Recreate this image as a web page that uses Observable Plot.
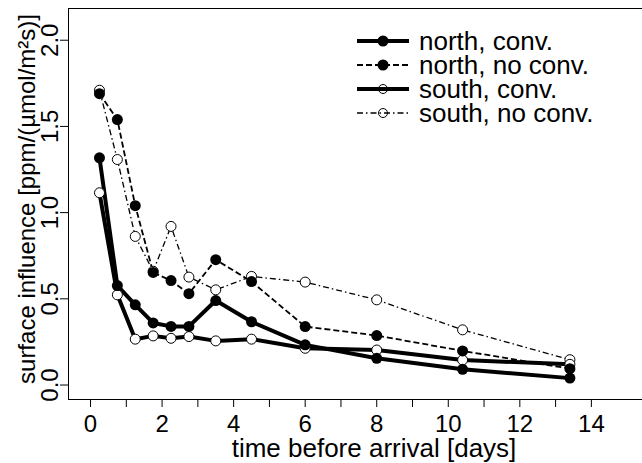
<!DOCTYPE html>
<html>
<head>
<meta charset="utf-8">
<script src="https://cdn.jsdelivr.net/npm/d3@7"></script>
<script src="https://cdn.jsdelivr.net/npm/@observablehq/plot@0.6"></script>
<style>
  body { margin: 0; background: #fff; }
  #wrap { position: relative; width: 642px; height: 463px; overflow: hidden; font-family: "Liberation Sans", Arial, sans-serif; }
  #wrap > svg { max-width: none !important; width: 680px !important; height: 463px !important; display: block; }
  #legend { position: absolute; left: 357px; top: 29px; font-size: 26px; line-height: 24px; color: #000; }
  #legend .row { display: flex; align-items: center; height: 24px; }
  #legend span { line-height: 24px; height: 24px; display: inline-block; }
  #legend svg { width: 52px; height: 24px; margin-right: 10px; }
</style>
</head>
<body>
<div id="wrap"><div id="legend"></div></div>
<script>
const days = [0.25, 0.75, 1.25, 1.75, 2.25, 2.75, 3.5, 4.5, 6, 8, 10.4, 13.4];
const northConv   = [1.318, 0.577, 0.465, 0.36, 0.34, 0.34, 0.49, 0.367, 0.233, 0.155, 0.091, 0.04];
const northNoConv = [1.69, 1.54, 1.04, 0.653, 0.606, 0.53, 0.727, 0.60, 0.339, 0.287, 0.198, 0.095];
const southConv   = [1.115, 0.523, 0.266, 0.285, 0.271, 0.281, 0.256, 0.266, 0.213, 0.203, 0.145, 0.12];
const southNoConv = [1.71, 1.308, 0.862, 0.66, 0.92, 0.626, 0.552, 0.63, 0.597, 0.494, 0.32, 0.147];

const seriesNames = ["north, conv.", "north, no conv.", "south, conv.", "south, no conv."];
const xTicks = [0,1,2,3,4,5,6,7,8,9,10,11,12,13,14];
const yTicks = [0, 0.5, 1, 1.5, 2];
const xTitle = "time before arrival [days]";
const yTitle = "surface influence [ppm/(µmol/m²s)]";

const styles = {
  "north, conv.":    {width: 4,   dash: null,          filled: true},
  "north, no conv.": {width: 1.8, dash: "6,3",         filled: true},
  "south, conv.":    {width: 4,   dash: null,          filled: false},
  "south, no conv.": {width: 1.3, dash: "6,3,1.5,3",   filled: false}
};

const mk = (name, vals) => days.map((d, i) => ({series: name, day: d, value: vals[i]}));
const data = {
  "north, conv.": mk("north, conv.", northConv),
  "north, no conv.": mk("north, no conv.", northNoConv),
  "south, conv.": mk("south, conv.", southConv),
  "south, no conv.": mk("south, no conv.", southNoConv)
};

const lineMarks = seriesNames.map(n => Plot.line(data[n], {
  x: "day", y: "value", stroke: "black",
  strokeWidth: styles[n].width, strokeDasharray: styles[n].dash,
  strokeLinejoin: "round", strokeLinecap: "butt"
}));
const dotOrder = ["south, no conv.", "south, conv.", "north, no conv.", "north, conv."];
const dotMarks = dotOrder.map(n => styles[n].filled
  ? Plot.dot(data[n], {x: "day", y: "value", r: 5.5, fill: "black", stroke: "none"})
  : Plot.dot(data[n], {x: "day", y: "value", r: 5, fill: "white", stroke: "black", strokeWidth: 1}));

const chart = Plot.plot({
  width: 680, height: 463,
  marginLeft: 68, marginRight: 17, marginTop: 8, marginBottom: 64,
  style: {fontFamily: "'Liberation Sans', Arial, sans-serif", background: "white", color: "black", maxWidth: "none"},
  x: {domain: [-0.616, 16.016]},
  y: {domain: [-0.084, 2.184]},
  marks: [
    Plot.frame({stroke: "black", strokeWidth: 1}),
    Plot.axisX({ticks: xTicks, tickSize: 8, tickPadding: 7, fontSize: 24, label: null,
      tickFormat: d => d % 2 === 0 ? String(d) : ""}),
    Plot.axisY({ticks: yTicks, tickSize: 8, tickFormat: () => "", label: null}),
    Plot.text(yTicks, {y: d => d, text: d => d.toFixed(1), frameAnchor: "left", textAnchor: "middle", dx: -18, rotate: -90, fontSize: 24}),
    Plot.text([xTitle], {frameAnchor: "bottom", textAnchor: "middle", lineAnchor: "middle", dx: 8, dy: 49, fontSize: 26}),
    Plot.text([yTitle], {frameAnchor: "left", textAnchor: "middle", dx: -41, dy: -5, rotate: -90, fontSize: 24}),
    ...lineMarks,
    ...dotMarks
  ]
});
const wrap = document.getElementById("wrap");
wrap.insertBefore(chart, wrap.firstChild);

const legend = document.getElementById("legend");
for (const n of seriesNames) {
  const s = styles[n];
  const row = document.createElement("div");
  row.className = "row";
  const dash = s.dash ? `stroke-dasharray="${s.dash}"` : "";
  const pt = s.filled
    ? `<circle cx="26" cy="12" r="5.5" fill="black"/>`
    : `<circle cx="26" cy="12" r="4.5" fill="none" stroke="black" stroke-width="1"/>`;
  row.innerHTML = `<svg viewBox="0 0 52 24"><line x1="0" x2="52" y1="12" y2="12" stroke="black" stroke-width="${s.width}" ${dash}/>${pt}</svg><span>${n}</span>`;
  legend.appendChild(row);
}
</script>
</body>
</html>
